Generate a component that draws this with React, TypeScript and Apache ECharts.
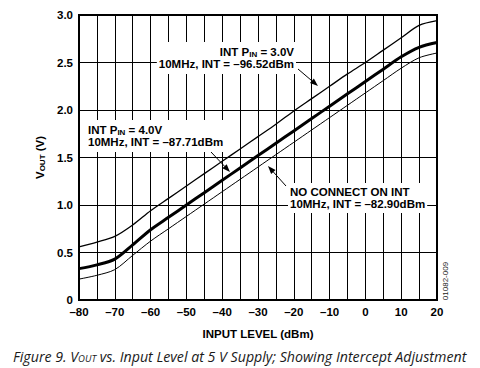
import React, { useEffect, useRef } from "react";
import * as echarts from "echarts";

// Input level (dBm)
const inputLevel = [-80, -75, -70, -65, -60, -55, -50, -45, -40, -35, -30, -25, -20, -15, -10, -5, 0, 5, 10, 15, 20];
// INT PIN = 3.0V (upper thin curve)
const vIntPin3 = [0.56, 0.61, 0.67, 0.79, 0.94, 1.07, 1.2, 1.33, 1.46, 1.59, 1.72, 1.85, 1.99, 2.12, 2.25, 2.38, 2.5, 2.63, 2.76, 2.89, 2.94];
// INT PIN = 4.0V (thick curve)
const vIntPin4 = [0.33, 0.37, 0.43, 0.58, 0.74, 0.87, 1.0, 1.13, 1.26, 1.39, 1.52, 1.65, 1.78, 1.91, 2.04, 2.17, 2.3, 2.43, 2.56, 2.66, 2.71];
// NO CONNECT ON INT (lower thin curve)
const vNoConnect = [0.22, 0.26, 0.32, 0.47, 0.62, 0.75, 0.88, 1.01, 1.14, 1.27, 1.4, 1.53, 1.66, 1.79, 1.92, 2.05, 2.18, 2.31, 2.44, 2.55, 2.6];

const FONT = "'Liberation Sans', Arial, sans-serif";

export default function App() {
  const ref = useRef<HTMLDivElement>(null);
  useEffect(() => {
    if (!ref.current) return;
    const chart = echarts.init(ref.current, undefined, { renderer: "svg" });
    const toPairs = (ys: number[]) => inputLevel.map((x, i) => [x, ys[i]]);
    const boxStyle = {
      fontFamily: FONT,
      backgroundColor: "#fff",
      fill: "#000",
    };
    const rich = {
      b: { fontSize: 11.5, fontWeight: "bold", fontFamily: FONT, lineHeight: 12 },
      s: { fontSize: 8, fontWeight: "bold", fontFamily: FONT, lineHeight: 12, padding: [5, 0, 0, 0] },
    };
    const arrow = (x1: number, y1: number, x2: number, y2: number) => {
      const ang = Math.atan2(y2 - y1, x2 - x1);
      const L = 8, W = 3;
      const bx = x2 - L * Math.cos(ang), by = y2 - L * Math.sin(ang);
      const px = -Math.sin(ang) * W, py = Math.cos(ang) * W;
      return [
        { type: "line", shape: { x1, y1, x2: bx, y2: by }, style: { stroke: "#000", lineWidth: 1 }, z: 20 },
        { type: "polygon", shape: { points: [[x2, y2], [bx + px, by + py], [bx - px, by - py]] }, style: { fill: "#000" }, z: 20 },
      ];
    };
    chart.setOption({
      animation: false,
      grid: { left: 79, right: 43, top: 15, bottom: 68, show: true, borderColor: "#000", borderWidth: 2, backgroundColor: "transparent" },
      xAxis: {
        type: "value",
        min: -80,
        max: 20,
        interval: 5,
        name: "INPUT LEVEL (dBm)",
        nameLocation: "middle",
        nameGap: 28,
        nameTextStyle: { fontFamily: FONT, fontWeight: "bold", fontSize: 11.5, color: "#000" },
        axisLine: { show: true, onZero: false, lineStyle: { color: "#000", width: 2 } },
        axisTick: { show: false },
        axisLabel: {
          margin: 6,
          fontFamily: FONT,
          fontWeight: "bold",
          fontSize: 11.5,
          color: "#000",
          formatter: (v: number) => (v % 10 !== 0 ? "" : v < 0 ? "\u2013" + Math.abs(v) : String(v)),
        },
        splitLine: { show: true, lineStyle: { color: "#000", width: 1 } },
      },
      yAxis: {
        type: "value",
        min: 0,
        max: 3,
        interval: 0.5,
        name: "{b|V}{s|OUT}{b| (V)}",
        nameLocation: "middle",
        nameRotate: 90,
        nameGap: 32,
        nameTextStyle: { rich },
        axisLine: { show: true, onZero: false, lineStyle: { color: "#000", width: 2 } },
        axisTick: { show: false },
        axisLabel: {
          margin: 6,
          fontFamily: FONT,
          fontWeight: "bold",
          fontSize: 11.5,
          color: "#000",
          formatter: (v: number) => (v === 0 ? "0" : v.toFixed(1)),
        },
        splitLine: { show: true, lineStyle: { color: "#000", width: 1 } },
      },
      series: [
        { name: "INT PIN = 3.0V", type: "line", data: toPairs(vIntPin3), showSymbol: false, smooth: 0.3, lineStyle: { color: "#000", width: 1.3 }, z: 5 },
        { name: "INT PIN = 4.0V", type: "line", data: toPairs(vIntPin4), showSymbol: false, smooth: 0.3, lineStyle: { color: "#000", width: 3 }, z: 5 },
        { name: "NO CONNECT ON INT", type: "line", data: toPairs(vNoConnect), showSymbol: false, smooth: 0.3, lineStyle: { color: "#000", width: 1 }, z: 5 },
      ],
      graphic: [
        {
          type: "text", x: 296, y: 58, z: 15,
          style: { ...boxStyle, text: "{b|INT P}{s|IN}{b| = 3.0V}\n{b|10MHz, INT = \u201396.52dBm}", rich, align: "right", verticalAlign: "middle", padding: [4, 2, 4, 2] },
        },
        {
          type: "text", x: 86, y: 136, z: 15,
          style: { ...boxStyle, text: "{b|INT P}{s|IN}{b| = 4.0V}\n{b|10MHz, INT = \u201387.71dBm}", rich, align: "left", verticalAlign: "middle", padding: [4, 2, 4, 2] },
        },
        {
          type: "text", x: 288, y: 198, z: 15,
          style: { ...boxStyle, text: "{b|NO CONNECT ON INT}\n{b|10MHz, INT = \u201382.90dBm}", rich, align: "left", verticalAlign: "middle", padding: [3, 2, 3, 2] },
        },
        ...arrow(298, 69, 318, 86),
        ...arrow(211, 152, 230, 172),
        ...arrow(286, 186, 268, 166),
        {
          type: "text", x: 445, y: 281, rotation: Math.PI / 2,
          style: { text: "01082-009", fontFamily: FONT, fontSize: 8, fill: "#222", align: "center", verticalAlign: "middle" },
        },
        {
          type: "text", x: 13, y: 356,
          style: {
            text: "{i|Figure 9. V}{sub|OUT}{i| vs. Input Level at 5 V Supply; Showing Intercept Adjustment}",
            rich: {
              i: { fontFamily: "'Open Sans', sans-serif", fontStyle: "italic", fontSize: 14.2, fill: "#1a1a1a" },
              sub: { fontFamily: "'Open Sans', sans-serif", fontStyle: "italic", fontSize: 9.5, fill: "#1a1a1a", padding: [4, 0, 0, 0] },
            },
            align: "left",
            verticalAlign: "middle",
          },
        },
      ],
    });
    return () => chart.dispose();
  }, []);
  return <div ref={ref} style={{ width: 480, height: 368, position: "absolute", left: 0, top: 0 }} />;
}
